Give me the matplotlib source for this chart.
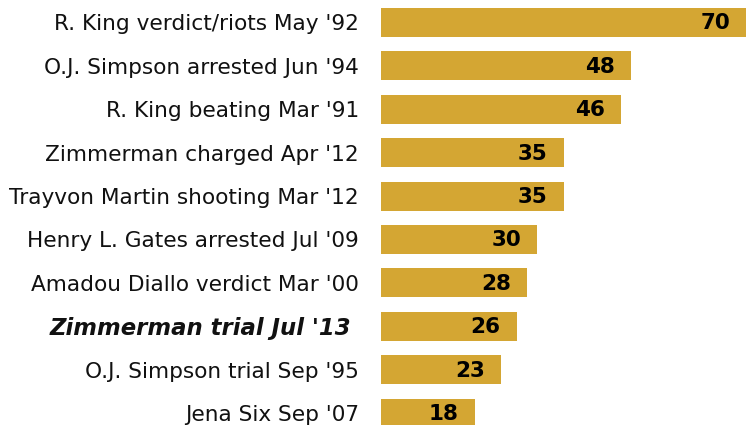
import matplotlib
matplotlib.use("Agg")
import matplotlib.pyplot as plt

categories = ["R. King verdict/riots May '92", "O.J. Simpson arrested Jun '94",
              "R. King beating Mar '91", "Zimmerman charged Apr '12",
              "Trayvon Martin shooting Mar '12", "Henry L. Gates arrested Jul '09",
              "Amadou Diallo verdict Mar '00", "Zimmerman trial Jul '13",
              "O.J. Simpson trial Sep '95", "Jena Six Sep '07"]
values = [70, 48, 46, 35, 35, 30, 28, 26, 23, 18]
highlight = "Zimmerman trial Jul '13"

W, H = 746, 425
fig = plt.figure(figsize=(W / 100, H / 100), dpi=100)
pitch = 43.4
top = -22.5 / pitch
bottom = (H - 22.5) / pitch
ax = fig.add_axes([381 / W, 0, 365 / W, 1])
ypos = list(range(len(categories)))
ax.barh(ypos, values, height=29 / pitch, color="#D4A633", edgecolor="none")
ax.set_xlim(0, 70)
ax.set_ylim(bottom, top)
for s in ax.spines.values():
    s.set_visible(False)
ax.set_xticks([])
ax.set_yticks(ypos)
ax.set_yticklabels([c + " " if c == highlight else c for c in categories],
                   fontsize=15.6, color="#111111")
ax.tick_params(axis="y", length=0, pad=16)
for lbl in ax.get_yticklabels():
    if lbl.get_text().strip() == highlight:
        lbl.set_fontweight("bold")
        lbl.set_fontstyle("italic")
        lbl.set_fontsize(16.4)
for y, v in zip(ypos, values):
    ax.annotate(str(v), xy=(v, y), xytext=(-16, -1), textcoords="offset pixels",
                ha="right", va="center", fontsize=15.5, fontweight="bold", color="black")
fig.savefig("out.png", dpi=100)
